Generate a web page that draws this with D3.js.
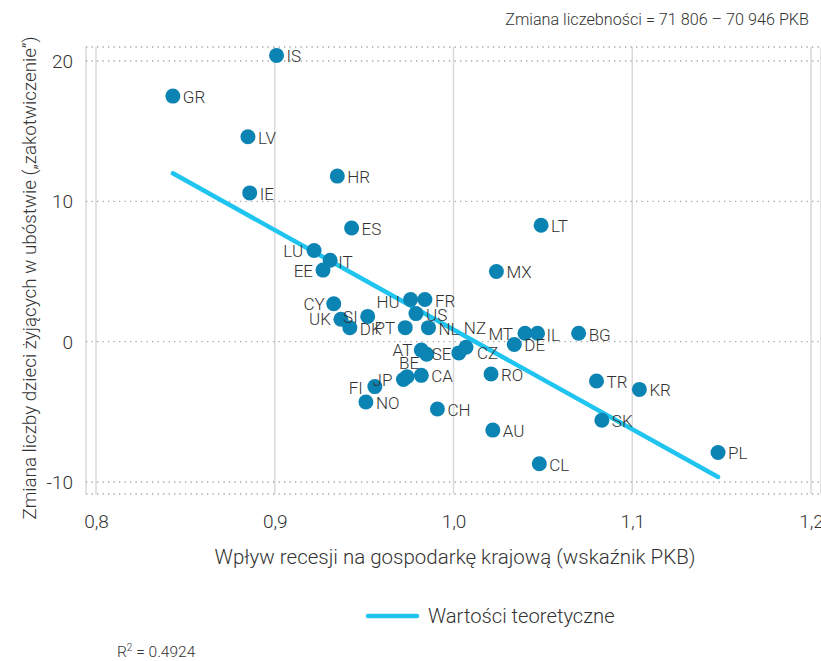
<!DOCTYPE html>
<html>
<head>
<meta charset="utf-8">
<script src="https://cdn.jsdelivr.net/npm/d3@7"></script>
<style>
  body { margin: 0; background: #fff; }
  svg text { font-family: Roboto, "Liberation Sans", sans-serif; font-weight: 300; fill: #333; }
</style>
</head>
<body>
<div id="canvas"></div>
<script>
// data

const countries = ['IS', 'GR', 'LV', 'HR', 'IE', 'ES', 'LU', 'IT', 'EE', 'CY', 'UK', 'SI', 'DK', 'PT',
  'HU', 'FR', 'US', 'NL', 'NZ', 'CZ', 'AT', 'SE', 'BE', 'JP', 'CA', 'FI', 'NO', 'CH',
  'LT', 'MX', 'MT', 'IL', 'BG', 'DE', 'RO', 'TR', 'KR', 'SK', 'AU', 'CL', 'PL'];
const gdpIndex = [0.901, 0.843, 0.885, 0.935, 0.886, 0.943, 0.922, 0.931, 0.927, 0.933, 0.937, 0.952, 0.942, 0.973,
  0.976, 0.984, 0.979, 0.986, 1.003, 1.007, 0.982, 0.985, 0.974, 0.972, 0.982, 0.956, 0.951, 0.991,
  1.049, 1.024, 1.040, 1.047, 1.070, 1.034, 1.021, 1.080, 1.104, 1.083, 1.022, 1.048, 1.148];
const povertyChange = [20.4, 17.5, 14.6, 11.8, 10.6, 8.1, 6.5, 5.8, 5.1, 2.7, 1.6, 1.8, 1.0, 1.0,
  3.0, 3.0, 2.0, 1.0, -0.8, -0.4, -0.6, -0.9, -2.5, -2.7, -2.4, -3.2, -4.3, -4.8,
  8.3, 5.0, 0.6, 0.6, 0.6, -0.2, -2.3, -2.8, -3.4, -5.6, -6.3, -8.7, -7.9];

const xTicks = [0.8, 0.9, 1.0, 1.1, 1.2];
const yTicks = [-10, 0, 10, 20];

// fitted line: Zmiana liczebności = 71 806 – 70 946 PKB (per 1000)
const fitIntercept = 71.806;
const fitSlope = -70.946;

// label placement, default is right of the point
const labelPlace = {
  IS: [10, 1], LU: [-11, 1, 'end'], IT: [8, 2], EE: [-10, 1, 'end'], CY: [-9, 0, 'end'],
  UK: [-10, 0, 'end'], SI: [-10, 1, 'end'], PT: [-10, 0, 'end'], HU: [-11, 2, 'end'],
  NZ: [5, -25], CZ: [11, 6], AT: [-9, 0, 'end'], SE: [5, 0], BE: [2, -14, 'middle'],
  JP: [-11, 0, 'end'], FI: [-12, 1, 'end'], MT: [-12, 1, 'end'], IL: [9, 2], BG: [10, 2]
};

// constants

const width = 821;
const height = 661;
const pointColor = '#0b84b3';
const lineColor = '#1fc4ef';

const x = d3.scaleLinear().domain([0.8, 1.2]).range([96, 811]);
const y = d3.scaleLinear().domain([-10, 20]).range([482, 61]);

const frameLeft = 86, frameRight = 821, frameTop = 47, frameBottom = 494;

const svg = d3.select('#canvas')
    .append('svg').attr('width', width).attr('height', height);

// grid
svg.append('g')
    .selectAll('line')
    .data(xTicks)
    .join('line')
    .attr('x1', d => x(d)).attr('x2', d => x(d))
    .attr('y1', frameTop).attr('y2', frameBottom)
    .attr('stroke', '#d9d9d9').attr('stroke-width', 1.5);

svg.append('g')
    .selectAll('line')
    .data([frameLeft, frameRight])
    .join('line')
    .attr('x1', d => d).attr('x2', d => d)
    .attr('y1', frameTop).attr('y2', frameBottom)
    .attr('stroke', '#d9d9d9').attr('stroke-width', 1.5);

svg.append('g')
    .selectAll('line')
    .data(yTicks.map(d => y(d)).concat([frameTop, frameBottom]))
    .join('line')
    .attr('x1', frameLeft).attr('x2', frameRight)
    .attr('y1', d => d).attr('y2', d => d)
    .attr('stroke', '#a6a6a6').attr('stroke-width', 1.3)
    .attr('stroke-dasharray', '1.3,4.2');

// axes (text only)
const xAxis = d3.axisBottom(x)
    .tickValues(xTicks)
    .tickSize(0).tickPadding(0)
    .tickFormat(d => d3.format('.1f')(d).replace('.', ','));
const yAxis = d3.axisLeft(y)
    .tickValues(yTicks)
    .tickSize(0).tickPadding(0)
    .tickFormat(d => d);

svg.append('g')
    .attr('class', 'x-axis')
    .attr('transform', 'translate(0,514)')
    .call(xAxis)
    .call(g => g.select('.domain').remove());
svg.append('g')
    .attr('class', 'y-axis')
    .attr('transform', 'translate(73,0)')
    .call(yAxis)
    .call(g => g.select('.domain').remove());

svg.selectAll('.x-axis text, .y-axis text')
    .attr('font-size', 19)
    .attr('font-family', null)
    .attr('fill', '#333');
svg.selectAll('.y-axis text').attr('dy', '0.35em');

// axis titles
svg.append('text')
    .attr('x', 455).attr('y', 564)
    .attr('text-anchor', 'middle')
    .attr('font-size', 20.5)
    .text('Wpływ recesji na gospodarkę krajową (wskaźnik PKB)');

svg.append('text')
    .attr('transform', 'translate(36,278) rotate(-90)')
    .attr('text-anchor', 'middle')
    .attr('font-size', 18.8)
    .text('Zmiana liczby dzieci żyjących w ubóstwie („zakotwiczenie”)');

svg.append('text')
    .attr('x', 809).attr('y', 25)
    .attr('text-anchor', 'end')
    .attr('font-size', 16.2)
    .text('Zmiana liczebności = 71 806 – 70 946 PKB');

// fitted line
const xExtent = d3.extent(gdpIndex);
svg.append('line')
    .attr('x1', x(xExtent[0])).attr('y1', y(fitIntercept + fitSlope * xExtent[0]))
    .attr('x2', x(xExtent[1])).attr('y2', y(fitIntercept + fitSlope * xExtent[1]))
    .attr('stroke', lineColor).attr('stroke-width', 4.5)
    .attr('stroke-linecap', 'round');

// points
const points = countries.map((c, i) => ({ c, gdp: gdpIndex[i], v: povertyChange[i] }));

svg.append('g')
    .selectAll('circle')
    .data(points)
    .join('circle')
    .attr('cx', d => x(d.gdp)).attr('cy', d => y(d.v))
    .attr('r', 7.5)
    .attr('fill', pointColor);

svg.append('g')
    .selectAll('text')
    .data(points)
    .join('text')
    .attr('x', d => x(d.gdp) + (labelPlace[d.c] ? labelPlace[d.c][0] : 10))
    .attr('y', d => y(d.v) + (labelPlace[d.c] ? labelPlace[d.c][1] : 1))
    .attr('dy', '0.35em')
    .attr('text-anchor', d => (labelPlace[d.c] && labelPlace[d.c][2]) || 'start')
    .attr('font-size', 17)
    .text(d => d.c);

// legend
svg.append('line')
    .attr('x1', 368).attr('x2', 417).attr('y1', 616).attr('y2', 616)
    .attr('stroke', lineColor).attr('stroke-width', 4.5)
    .attr('stroke-linecap', 'round');
svg.append('text')
    .attr('x', 428).attr('y', 616)
    .attr('dy', '0.35em')
    .attr('font-size', 20.2)
    .text('Wartości teoretyczne');

svg.append('text')
    .attr('x', 117).attr('y', 657)
    .attr('font-size', 15.5)
    .html('R<tspan dy="-6" font-size="10">2</tspan><tspan dy="6"> = 0.4924</tspan>');
</script>
</body>
</html>
